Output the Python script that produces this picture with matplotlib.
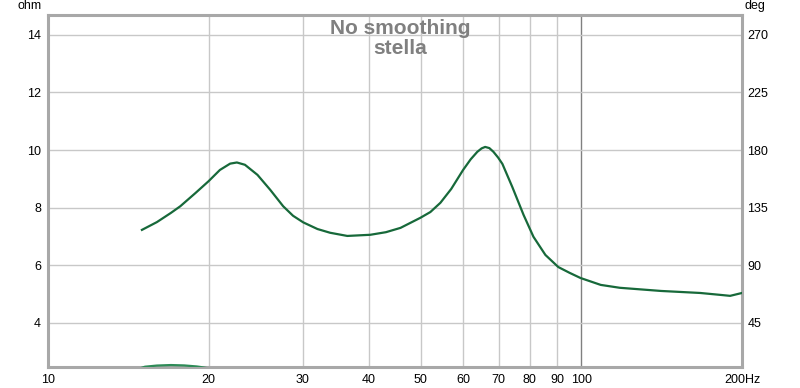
import matplotlib.pyplot as plt
import numpy as np
from matplotlib.ticker import FixedLocator, NullLocator

plt.rcParams['font.family'] = ['Liberation Sans', 'DejaVu Sans']

# impedance magnitude (ohm)
freq = [15.0, 16.0, 17.0, 17.7, 18.9, 20.0, 21.0, 21.95, 22.6, 23.4, 24.7, 26.1,
        27.6, 28.8, 30.1, 32.0, 33.8, 36.4, 40.2, 43.0, 45.8, 49.9, 52.1, 54.4,
        57.0, 60.0, 62.0, 63.8, 65.0, 66.0, 67.2, 68.4, 69.8, 71.1, 74.2, 77.9,
        81.3, 85.6, 90.5, 95.0, 99.6, 108.7, 118.0, 141.0, 167.0, 183.0, 190.0,
        200.0]
ohm = [7.23, 7.50, 7.82, 8.05, 8.51, 8.92, 9.31, 9.53, 9.57, 9.49, 9.14, 8.62,
       8.05, 7.72, 7.49, 7.26, 7.13, 7.02, 7.06, 7.15, 7.30, 7.65, 7.85, 8.17,
       8.65, 9.31, 9.68, 9.94, 10.06, 10.11, 10.07, 9.94, 9.74, 9.52, 8.72, 7.75,
       6.99, 6.36, 5.94, 5.74, 5.56, 5.32, 5.22, 5.11, 5.04, 4.97, 4.94, 5.04]

# phase (deg), only the small visible piece near the bottom
freq_ph = [15.0, 15.2, 16.0, 17.0, 18.0, 19.0, 19.3, 20.0]
phase = [10.0, 10.8, 11.7, 12.1, 11.8, 11.0, 10.6, 9.5]

x_ticks = [10, 20, 30, 40, 50, 60, 70, 80, 90, 100, 200]
x_labels = ['10', '20', '30', '40', '50', '60', '70', '80', '90', '100', '200Hz']
ohm_ticks = [4, 6, 8, 10, 12, 14]
deg_ticks = [45, 90, 135, 180, 225, 270]

green = '#17693a'
grid_c = '#c8c8c8'

fig = plt.figure(figsize=(8, 3.88), dpi=100)
ax = fig.add_axes([48/800, 21/388, 694/800, 352/388])
ax.set_xscale('log')
ax.set_xlim(10, 200)
ax.set_ylim(2.47, 14.69)

ax.xaxis.set_major_locator(FixedLocator(x_ticks))
ax.xaxis.set_minor_locator(NullLocator())
ax.set_xticklabels(x_labels)
ax.set_yticks(ohm_ticks)
ax.tick_params(length=0, labelsize=9, pad=5)

for f in x_ticks[1:-1]:
    ax.axvline(f, color='#808080' if f == 100 else grid_c, lw=1, zorder=0)
for v in ohm_ticks:
    ax.axhline(v, color=grid_c, lw=1, zorder=0)

for s in ax.spines.values():
    s.set_color('#a8a8a8')
    s.set_linewidth(2.2)

ax.plot(freq, ohm, color=green, lw=1.6, zorder=3)

ax2 = ax.twinx()
ax2.set_ylim(45 + (2.47 - 4) * 22.5, 45 + (14.69 - 4) * 22.5)
ax2.set_yticks(deg_ticks)
ax2.tick_params(length=0, labelsize=9, pad=4)
for s in ax2.spines.values():
    s.set_visible(False)
ax2.plot(freq_ph, phase, color='#2e8b57', lw=1.6, zorder=3)

fig.text(30/800, 1 - 6/388, 'ohm', ha='center', va='center', fontsize=9)
fig.text(755/800, 1 - 6/388, 'deg', ha='center', va='center', fontsize=9)
fig.text(400/800, 1 - 19/388, 'No smoothing\nstella', ha='center', va='top',
         fontsize=15, fontweight='bold', color='#808080', linespacing=1.1)

fig.savefig('out.png', dpi=100)
